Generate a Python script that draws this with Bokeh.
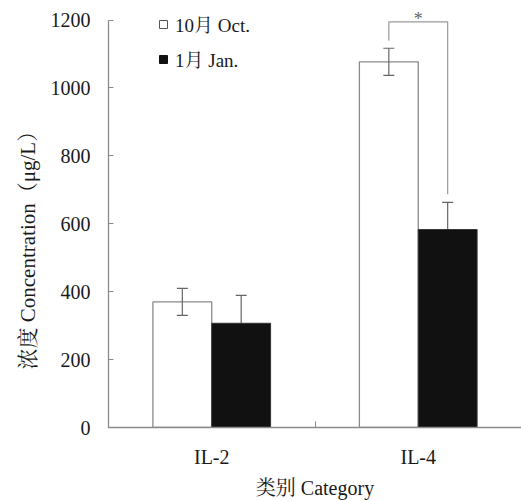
from bokeh.plotting import figure
from bokeh.models import (ColumnDataSource, Range1d, FixedTicker, Whisker, TeeHead,
                          Legend, LegendItem, Label, Title)
from bokeh.embed import file_html
from bokeh.resources import INLINE

# ---- data ----
categories = ["IL-2", "IL-4"]
oct_values = [370, 1077]
oct_errors = [40, 40]
jan_values = [307, 583]
jan_errors = [82, 80]
series_labels = ["10月 Oct.", "1月 Jan."]
y_ticks = [0, 200, 400, 600, 800, 1000, 1200]
y_title = "浓度 Concentration（μg/L）"
x_title = "类别 Category"
sig_category = "IL-4"
sig_text = "*"

FONT = "'Liberation Serif', 'Noto Serif CJK SC', 'Noto Sans CJK SC', serif"
GRAY = "#8a8a8a"
TEXT = "#1a1a1a"
OCT_FILL, OCT_LINE = "white", GRAY
JAN_FILL, JAN_LINE = "#111111", "#333333"

bar_w = 0.285
centers = [i + 0.5 for i in range(len(categories))]
x_oct = [c - bar_w / 2 for c in centers]
x_jan = [c + bar_w / 2 for c in centers]

p = figure(width=521, height=501, output_backend="svg", toolbar_location=None,
           x_range=Range1d(0, len(categories)), y_range=Range1d(0, 1240),
           min_border_left=108, min_border_right=0, min_border_top=6,
           min_border_bottom=71)
p.outline_line_color = None
p.xgrid.visible = False
p.ygrid.visible = False
p.background_fill_color = "white"
p.border_fill_color = "white"

src_oct = ColumnDataSource(dict(x=x_oct, top=oct_values,
                                lower=[v - e for v, e in zip(oct_values, oct_errors)],
                                upper=[v + e for v, e in zip(oct_values, oct_errors)]))
src_jan = ColumnDataSource(dict(x=x_jan, top=jan_values,
                                lower=[v - e for v, e in zip(jan_values, jan_errors)],
                                upper=[v + e for v, e in zip(jan_values, jan_errors)]))

p.vbar(x="x", top="top", width=bar_w, source=src_oct,
       fill_color=OCT_FILL, line_color=OCT_LINE, line_width=1.3)
p.vbar(x="x", top="top", width=bar_w, source=src_jan,
       fill_color=JAN_FILL, line_color=JAN_LINE, line_width=1)

w_oct = Whisker(base="x", lower="lower", upper="upper", source=src_oct,
                line_color="#666666", line_width=1.2, level="annotation",
                upper_head=TeeHead(size=11, line_color="#666666", line_width=1.2),
                lower_head=TeeHead(size=11, line_color="#666666", line_width=1.2))
w_jan = Whisker(base="x", lower="lower", upper="upper", source=src_jan,
                line_color="#666666", line_width=1.2, level="underlay",
                upper_head=TeeHead(size=11, line_color="#666666", line_width=1.2),
                lower_head=TeeHead(size=11, line_color="#666666", line_width=1.2))
p.add_layout(w_oct)
p.add_layout(w_jan)

# significance bracket
k = categories.index(sig_category)
br_y = 1195
left_bot = oct_values[k] + oct_errors[k] + 22
right_bot = jan_values[k] + jan_errors[k] + 24
p.multi_line(xs=[[x_oct[k], x_oct[k], x_jan[k], x_jan[k]]],
             ys=[[left_bot, br_y, br_y, right_bot]],
             line_color="#999999", line_width=1.2)
p.add_layout(Label(x=centers[k], y=br_y, text=sig_text, text_align="center",
                   text_baseline="middle", y_offset=3, text_font=FONT,
                   text_font_size="18px", text_color="#666666"))

# legend swatches: zero-size square markers at the bar tops (only the legend shows them)
lg_oct = p.scatter(x="x", y="top", source=src_oct, marker="square", size=0,
                   fill_color=OCT_FILL, line_color="#555555", line_width=1)
lg_jan = p.scatter(x="x", y="top", source=src_jan, marker="square", size=0,
                   fill_color=JAN_FILL, line_color=JAN_FILL, line_width=1)

# axes
for ax in (p.xaxis[0], p.yaxis[0]):
    ax.axis_line_color = GRAY
    ax.axis_line_width = 1.3
    ax.major_label_text_font = FONT
    ax.major_label_text_color = TEXT
    ax.major_label_text_font_size = "20px"
    ax.axis_label_text_font = FONT
    ax.axis_label_text_font_style = "normal"
    ax.axis_label_text_color = TEXT
    ax.axis_label_text_font_size = "20px"

p.yaxis.ticker = FixedTicker(ticks=y_ticks)
p.yaxis.bounds = (y_ticks[0], y_ticks[-1])
p.yaxis.major_tick_in = 5
p.yaxis.major_tick_out = 0
p.yaxis.major_tick_line_color = GRAY
p.yaxis.minor_tick_line_color = None
p.yaxis.major_label_standoff = 18

# y axis title placed as a side title so it can sit lower, as in the original
p.add_layout(Title(text=y_title, align="left", offset=58, vertical_align="middle",
                   text_font=FONT, text_font_size="21px", text_font_style="normal",
                   text_color=TEXT, standoff=14), "left")

p.xaxis.ticker = FixedTicker(ticks=centers, minor_ticks=list(range(len(categories) + 1)))
p.xaxis.major_label_overrides = {c: cat for c, cat in zip(centers, categories)}
p.xaxis.major_tick_line_color = None
p.xaxis.minor_tick_line_color = GRAY
p.xaxis.minor_tick_in = 6
p.xaxis.minor_tick_out = 0
p.xaxis.major_label_standoff = 12
p.xaxis.axis_label = x_title
p.xaxis.axis_label_standoff = 6

legend = Legend(items=[LegendItem(label=series_labels[0], renderers=[lg_oct], index=0),
                       LegendItem(label=series_labels[1], renderers=[lg_jan], index=0)],
                location=(45, 355), orientation="vertical",
                glyph_width=20, glyph_height=26, label_standoff=2,
                label_height=26, spacing=8, padding=0, margin=0,
                border_line_color=None, background_fill_alpha=0,
                label_text_font=FONT, label_text_font_size="19px",
                label_text_color=TEXT)
p.add_layout(legend, "center")

open("out.html", "w").write(file_html(p, INLINE))
